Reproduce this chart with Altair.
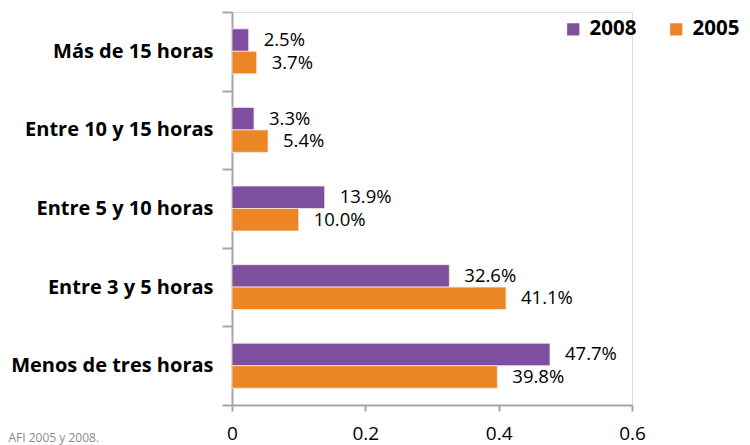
import altair as alt
import pandas as pd

categories = ["Más de 15 horas", "Entre 10 y 15 horas", "Entre 5 y 10 horas",
              "Entre 3 y 5 horas", "Menos de tres horas"]
years = ["2008", "2005"]
values_2008 = [0.025, 0.033, 0.139, 0.326, 0.477]
values_2005 = [0.037, 0.054, 0.100, 0.411, 0.398]
x_ticks = [0, 0.2, 0.4, 0.6]
colors = ["#7f4f9f", "#ec8526"]
footer = "AFI 2005 y 2008."

rows = []
for c, a, b in zip(categories, values_2008, values_2005):
    rows.append({"cat": c, "year": "2008", "v": a})
    rows.append({"cat": c, "year": "2005", "v": b})
df = pd.DataFrame(rows)

FONT = "Open Sans"
W, H = 400, 393

y = alt.Y("cat:N", sort=categories,
          scale=alt.Scale(paddingInner=0, paddingOuter=0),
          axis=alt.Axis(title=None, tickBand="extent", labelFont=FONT,
                        labelFontSize=20, labelFontWeight="bold", labelColor="#000",
                        labelPadding=9, tickSize=10, tickColor="#a6a6a6",
                        tickWidth=2, domainColor="#a6a6a6", domainWidth=2,
                        grid=False, labelLimit=400))
yoff = alt.YOffset("year:N", sort=years,
                   scale=alt.Scale(paddingInner=0, paddingOuter=0.75))
x = alt.X("v:Q", scale=alt.Scale(domain=[0, 0.6], nice=False),
          axis=alt.Axis(values=x_ticks, format="", labelFont=FONT, labelFontSize=19,
                        labelColor="#000", tickSize=6, tickColor="#a6a6a6",
                        tickWidth=2, domainColor="#a6a6a6", domainWidth=2,
                        grid=False, labelPadding=13, labelFlush=False,
                        title=footer, titleFont=FONT, titleFontSize=12,
                        titleFontWeight="normal", titleColor="#8c8c8c",
                        titleAnchor="start", titleAlign="left", titleBaseline="middle",
                        titleX=-224, titleY=32))

bars = alt.Chart(df).mark_bar(stroke="#f5e6d8", strokeWidth=0.8).encode(
    y=y, yOffset=yoff, x=x,
    color=alt.Color("year:N", sort=years,
                    scale=alt.Scale(domain=years, range=colors),
                    legend=alt.Legend(title=None, orient="none", direction="horizontal",
                                      legendX=331, legendY=7, symbolType="square",
                                      symbolSize=150, symbolStrokeWidth=0,
                                      labelFont=FONT, labelFontSize=20.5,
                                      labelFontWeight="bold", labelColor="#000",
                                      columnPadding=29, labelOffset=6)),
)

labels = alt.Chart(df).mark_text(align="left", baseline="middle", dx=15,
                                 font=FONT, fontSize=18.5, color="#000").encode(
    y=alt.Y("cat:N", sort=categories), yOffset=alt.YOffset("year:N", sort=years),
    x="v:Q",
    text=alt.Text("v:Q", format=".1%"),
)

chart = alt.layer(bars, labels).properties(
    width=W, height=H,
    autosize=alt.AutoSizeParams(type="none"),
    padding={"left": 224, "top": 4, "right": 110, "bottom": 40},
).configure_view(stroke=None).configure(font=FONT)

chart.save("out.html", embed_options={"renderer": "svg", "actions": False})
